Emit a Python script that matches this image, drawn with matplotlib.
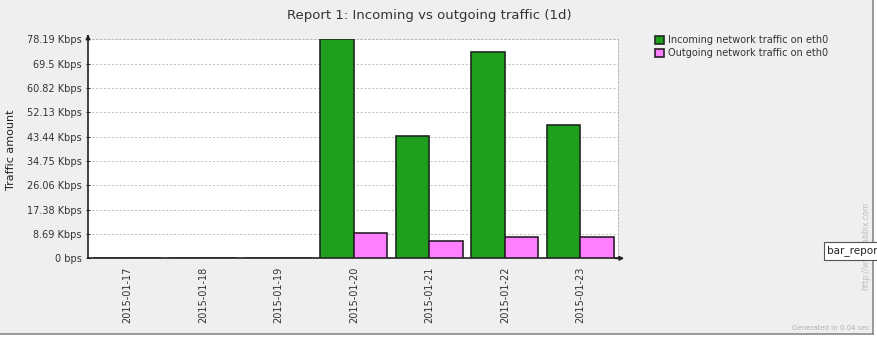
import matplotlib.pyplot as plt
import numpy as np

dates = ['2015-01-17', '2015-01-18', '2015-01-19', '2015-01-20',
         '2015-01-21', '2015-01-22', '2015-01-23']
incoming = [0, 0, 0, 78.19, 43.55, 73.55, 47.6]   # Kbps
outgoing = [0, 0, 0, 8.9, 6.05, 7.6, 7.6]         # Kbps
series_names = ['Incoming network traffic on eth0',
                'Outgoing network traffic on eth0']
ytick_labels = ['0 bps', '8.69 Kbps', '17.38 Kbps', '26.06 Kbps', '34.75 Kbps',
                '43.44 Kbps', '52.13 Kbps', '60.82 Kbps', '69.5 Kbps', '78.19 Kbps']
ymax = 78.19

W, H = 878, 351
fig = plt.figure(figsize=(W / 100, H / 100), dpi=100)
fig.patch.set_facecolor('white')

# grey panel with darker right/bottom border
bg = plt.Rectangle((0, 1 - 334 / H), 873 / W, 334 / H, transform=fig.transFigure,
                   facecolor='#efefef', edgecolor='none', zorder=-10)
fig.patches.append(bg)
fig.add_artist(plt.Line2D([873 / W, 873 / W], [1 - 334 / H, 1], color='#8a8a8a', lw=1.2))
fig.add_artist(plt.Line2D([0, 873 / W], [1 - 334 / H, 1 - 334 / H], color='#8a8a8a', lw=1.2))

ax = fig.add_axes([88 / W, 1 - 258.3 / H, (618 - 88) / W, (258.3 - 39.3) / H])
ax.set_facecolor('white')

x = np.arange(len(dates))
bw = 0.445
ax.bar(x - bw / 2, incoming, bw, color='#1ea01e', edgecolor='#1e2a1e', linewidth=1.2,
       label=series_names[0], zorder=3)
ax.bar(x + bw / 2, outgoing, bw, color='#ff80ff', edgecolor='#2a1e2a', linewidth=1.2,
       label=series_names[1], zorder=3)

ax.set_xlim(-0.52, 6.5)
ax.set_ylim(0, ymax)
yt = np.arange(10) * ymax / 9
ax.set_yticks(yt)
ax.set_yticklabels(ytick_labels, fontsize=7, color='#333333')
ax.set_xticks(x)
ax.set_xticklabels(dates, rotation=90, fontsize=7, color='#333333')
ax.tick_params(axis='x', length=0, pad=6)
ax.tick_params(axis='y', length=3, direction='inout', pad=3, color='#333333')

ax.grid(axis='y', linestyle=(0, (2, 2)), color='#bbbbbb', linewidth=0.7, zorder=0)
for s in ['top', 'right']:
    ax.spines[s].set_linestyle((0, (2, 2)))
    ax.spines[s].set_color('#bbbbbb')
    ax.spines[s].set_linewidth(0.7)
ax.spines['left'].set_color('#222222')
ax.spines['bottom'].set_color('#222222')
ax.spines['left'].set_linewidth(1.2)
ax.spines['bottom'].set_linewidth(1.2)

# axis arrows
ax.annotate('', xy=(0, 1.035), xytext=(0, 1.0), xycoords='axes fraction',
            arrowprops=dict(arrowstyle='-|>', color='#222222', lw=1.2,
                            mutation_scale=6, facecolor='white'),
            annotation_clip=False)
ax.annotate('', xy=(1.017, 0), xytext=(0.99, 0), xycoords='axes fraction',
            arrowprops=dict(arrowstyle='-|>', color='#222222', lw=1.2,
                            mutation_scale=6, facecolor='white'),
            annotation_clip=False)

fig.text(429 / W, 1 - 16 / H, 'Report 1: Incoming vs outgoing traffic (1d)',
         ha='center', va='center', fontsize=9.5, color='#333333')
fig.text(11 / W, 1 - 150 / H, 'Traffic amount', rotation=90, ha='center',
         va='center', fontsize=8, color='#222222')

fig.legend(loc='upper left', bbox_to_anchor=(655 / W, 1 - 35 / H), frameon=False,
           fontsize=7, handlelength=0.9, handleheight=0.9, handletextpad=0.4,
           labelspacing=0.3, borderaxespad=0, borderpad=0, labelcolor='#333333')

fig.text(866 / W, 1 - 246 / H, 'http://www.zabbix.com', rotation=90, ha='center',
         va='center', fontsize=5.5, color='#bdbdbd')
fig.text(870 / W, 1 - 328 / H, 'Generated in 0.04 sec', ha='right', va='center',
         fontsize=5, color='#b0b0b0')
fig.text(827 / W, 1 - 251 / H, 'bar_repor', ha='left', va='center', fontsize=7.5,
         color='#222222', zorder=5,
         bbox=dict(boxstyle='square,pad=0.3', facecolor='white', edgecolor='#555555',
                   linewidth=0.8))

fig.savefig('out.png', dpi=100)
